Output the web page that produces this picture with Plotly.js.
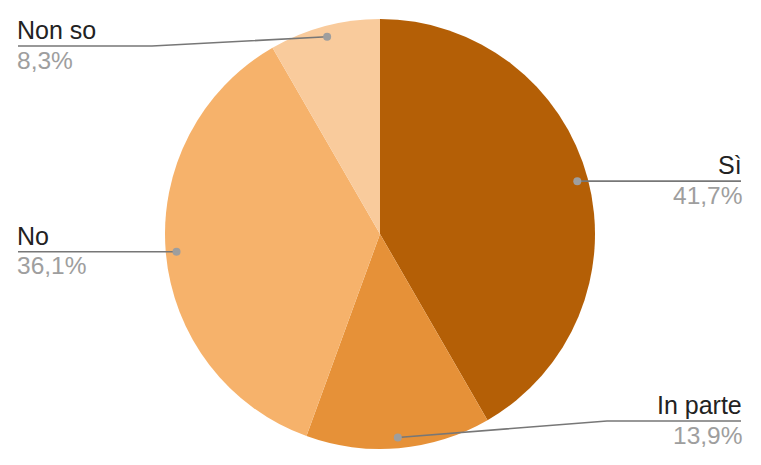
<!DOCTYPE html>
<html>
<head>
<meta charset="utf-8">
<script src="https://cdn.plot.ly/plotly-3.0.1.min.js"></script>
<style>
  html, body { margin: 0; padding: 0; background: #fff; }
  #chart { width: 761px; height: 465px; }
</style>
</head>
<body>
<div id="chart"></div>
<script>
var labels = ['Sì', 'In parte', 'No', 'Non so'];
var counts = [15, 5, 13, 3];
var colors = ['#b45f06', '#e69138', '#f6b26b', '#f9cb9c'];

// label placement (pixels): which side, y of the leader line, x of the bend
var labelSide = ['right', 'right', 'left', 'left'];
var lineY = [null, 421, null, 46];
var bendX = [null, 607, null, 152];

var W = 761, H = 465;
var cx = 380, cy = 234, R = 215;

function px(x) { return x / W; }
function py(y) { return 1 - y / H; }

function drawChart() {
    var LOC = document.getElementById('chart');
    var total = counts.reduce(function (a, b) { return a + b; }, 0);

    var trace = {
        type: 'pie',
        labels: labels,
        values: counts,
        sort: false,
        direction: 'clockwise',
        rotation: 0,
        textinfo: 'none',
        hoverinfo: 'none',
        marker: { colors: colors, line: { width: 0 } },
        domain: { x: [px(cx - R), px(cx + R)], y: [py(cy + R), py(cy - R)] },
        showlegend: false
    };

    var shapes = [];
    var annotations = [];
    var cum = 0;
    for (var i = 0; i < counts.length; i++) {
        var mid = (cum + counts[i] / 2) / total * 2 * Math.PI;
        cum += counts[i];
        var dx = cx + 0.95 * R * Math.sin(mid);
        var dy = cy - 0.95 * R * Math.cos(mid);
        var ly = lineY[i] === null ? dy : lineY[i];
        var edge = labelSide[i] === 'left' ? 18 : 741;
        var path = 'M' + px(edge) + ',' + py(ly);
        if (bendX[i] !== null) path += ' L' + px(bendX[i]) + ',' + py(ly);
        path += ' L' + px(dx) + ',' + py(dy);
        shapes.push({
            type: 'path', xref: 'paper', yref: 'paper', layer: 'above',
            path: path, line: { color: '#777777', width: 1.6 }
        });
        shapes.push({
            type: 'circle', xref: 'paper', yref: 'paper', layer: 'above',
            x0: px(dx - 4), x1: px(dx + 4), y0: py(dy + 4), y1: py(dy - 4),
            fillcolor: '#9e9e9e', line: { width: 0 }
        });

        var pct = (counts[i] / total * 100).toFixed(1).replace('.', ',') + '%';
        var anchor = labelSide[i];
        var tx = anchor === 'left' ? edge - 3 : edge + 3;
        annotations.push({
            xref: 'paper', yref: 'paper', x: px(tx), y: py(ly - 16),
            xanchor: anchor, yanchor: 'middle', showarrow: false,
            text: labels[i],
            font: { family: 'Liberation Sans, Arial, sans-serif', size: 25, color: '#222222' }
        });
        annotations.push({
            xref: 'paper', yref: 'paper', x: px(tx), y: py(ly + 14),
            xanchor: anchor, yanchor: 'middle', showarrow: false,
            text: pct,
            font: { family: 'Liberation Sans, Arial, sans-serif', size: 24.5, color: '#9e9e9e' }
        });
    }

    var layout = {
        width: W,
        height: H,
        margin: { l: 0, r: 0, t: 0, b: 0 },
        paper_bgcolor: '#ffffff',
        shapes: shapes,
        annotations: annotations
    };

    Plotly.newPlot(LOC, [trace], layout, { displayModeBar: false, staticPlot: true });
}

drawChart();
</script>
</body>
</html>
